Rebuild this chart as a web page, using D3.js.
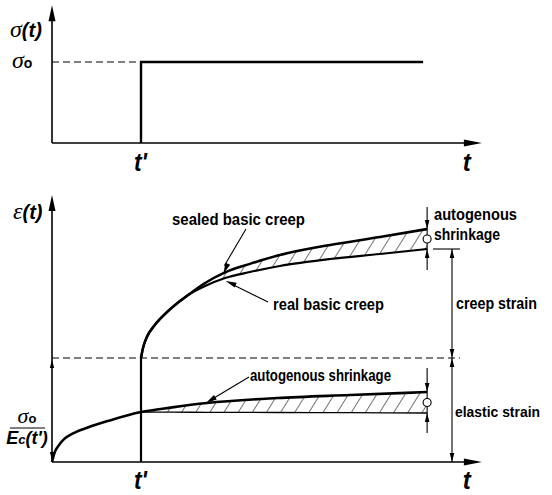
<!DOCTYPE html>
<html><head><meta charset="utf-8">
<script src="https://cdn.jsdelivr.net/npm/d3@7"></script>
<style>
html,body{margin:0;padding:0;background:#fff;}
svg{display:block;}
</style></head><body>
<svg id="chart" width="552" height="495"></svg>
<script>
// time axis in arbitrary units; t' is the age at loading
const tPrime = 20;
const tEnd = 84.3;
const tAxisMax = 96.6;

// stress history σ(t): constant load σ0 applied at t'
const stressT = [tPrime, tPrime, 83.4];
const stressV = [0, 1, 1];

// strain ε(t), in units of the elastic strain σ0/Ec(t')
// creep branch before the two curves separate
const creepCommonT = [20, 20.45, 21.3, 23.1, 26.1];
const creepCommonE = [1.0, 1.096, 1.20, 1.317, 1.452];
// after separation: sealed basic creep (upper) and real basic creep (lower)
const creepSplitT = [30.6, 34.4, 38.9, 44.5, 51.2, 62.5, 73.7, 84.3];
const sealedE = [1.606, 1.721, 1.823, 1.905, 1.99, 2.087, 2.163, 2.24];
const realE   = [1.606, 1.692, 1.769, 1.827, 1.885, 1.952, 2.0, 2.048];

// autogenous shrinkage curve up to loading
const autoPreT = [0, 0.67, 1.35, 2.7, 4.5, 7.9, 13, 20];
const autoPreE = [0, 0.10, 0.15, 0.22, 0.27, 0.33, 0.40, 0.48];
// after loading: shrinkage curve (upper) and reference line (lower)
const autoPostT  = [20, 27, 34.8, 50.6, 67, 84.3];
const autoUpperE = [0.48, 0.525, 0.567, 0.615, 0.644, 0.673];
const autoLowerE = [0.48, 0.479, 0.478, 0.476, 0.474, 0.471];

const FONT = "'Liberation Sans Narrow','Arial Narrow','Liberation Sans',Arial,sans-serif";
const SERIF = "'Liberation Serif','DejaVu Serif',serif";

const svg = d3.select('#chart');
svg.append('rect').attr('width', 552).attr('height', 495).attr('fill', '#fff');

const x = d3.scaleLinear().domain([0, 100]).range([52, 497]);
const yTop = d3.scaleLinear().domain([0, 1]).range([143, 62]);
const yBot = d3.scaleLinear().domain([0, 1]).range([462, 358]);

// hatch pattern
const defs = svg.append('defs');
defs.append('pattern')
  .attr('id', 'hatch').attr('patternUnits', 'userSpaceOnUse')
  .attr('width', 12).attr('height', 12)
  .attr('patternTransform', 'rotate(32)')
  .append('line').attr('x1', 0).attr('y1', 0).attr('x2', 0).attr('y2', 12)
  .attr('stroke', '#000').attr('stroke-width', 1.1);

function arrowHead(g, tx, ty, dx, dy, len, half) {
  const n = Math.hypot(dx, dy); dx /= n; dy /= n;
  const bx = tx - dx * len, by = ty - dy * len;
  const px = -dy * half, py = dx * half;
  g.append('path')
    .attr('d', `M${tx},${ty}L${bx + px},${by + py}L${bx - px},${by - py}Z`)
    .attr('fill', '#000');
}
function seg(g, x1, y1, x2, y2, w) {
  g.append('line').attr('x1', x1).attr('y1', y1).attr('x2', x2).attr('y2', y2)
    .attr('stroke', '#000').attr('stroke-width', w);
}
function label(g, px, py, txt, size, opts = {}) {
  const t = g.append('text').attr('x', px).attr('y', py)
    .attr('font-family', opts.family || FONT)
    .attr('font-size', size)
    .attr('font-weight', opts.weight || 'bold')
    .attr('font-style', opts.style || 'normal')
    .attr('fill', '#000')
    .attr('text-anchor', opts.anchor || 'start')
    .text(txt);
  if (opts.width) t.attr('textLength', opts.width).attr('lengthAdjust', 'spacingAndGlyphs');
  return t;
}

const zip = (ts, vs) => ts.map((t, i) => [t, vs[i]]);

// ---------- stress panel ----------
const gTop = svg.append('g');
seg(gTop, x(0), yTop(0), x(tAxisMax) - 14, yTop(0), 1.6);
arrowHead(gTop, x(tAxisMax), yTop(0), 1, 0, 18, 3.5);
seg(gTop, x(0), yTop(0), x(0), yTop(1.7) + 12, 1.6);
arrowHead(gTop, x(0), yTop(1.7), 0, -1, 16, 3.5);

gTop.append('line')
  .attr('x1', x(0)).attr('x2', x(tPrime)).attr('y1', yTop(1)).attr('y2', yTop(1))
  .attr('stroke', '#000').attr('stroke-width', 1).attr('stroke-dasharray', '7,4');

gTop.append('path')
  .datum(zip(stressT, stressV))
  .attr('d', d3.line().x(d => x(d[0])).y(d => yTop(d[1])))
  .attr('fill', 'none').attr('stroke', '#000').attr('stroke-width', 2.4);

// axis labels
const sl = label(gTop, 10, 37, '', 24, { family: SERIF, weight: 'normal', style: 'italic' });
sl.append('tspan').text('σ');
sl.append('tspan').attr('font-family', FONT).attr('font-weight', 'bold').attr('font-size', 20).text('(t)');
const s0 = label(gTop, 12, 68, '', 24, { family: SERIF, weight: 'normal', style: 'italic' });
s0.append('tspan').text('σ');
s0.append('tspan').attr('font-family', FONT).attr('font-weight', 'bold').attr('font-style', 'normal').attr('font-size', 14).text('o');
label(gTop, x(tPrime) - 7, 171, "t'", 26, { style: 'italic', width: 13 });
label(gTop, x(tAxisMax) - 19, 171, 't', 26, { style: 'italic', width: 8 });

// ---------- strain panel ----------
const gBot = svg.append('g');
const lineGen = d3.line().x(d => x(d[0])).y(d => yBot(d[1])).curve(d3.curveMonotoneX);
const areaGen = d3.area().x(d => x(d[0])).y0(d => yBot(d[1])).y1(d => yBot(d[2])).curve(d3.curveMonotoneX);

// hatched regions
gBot.append('path')
  .datum(creepSplitT.map((t, i) => [t, realE[i], sealedE[i]]))
  .attr('d', areaGen).attr('fill', 'url(#hatch)');
gBot.append('path')
  .datum(autoPostT.map((t, i) => [t, autoLowerE[i], autoUpperE[i]]))
  .attr('d', areaGen).attr('fill', 'url(#hatch)');

// axes
seg(gBot, x(0), yBot(0), x(tAxisMax) - 14, yBot(0), 1.6);
arrowHead(gBot, x(tAxisMax), yBot(0), 1, 0, 18, 3.5);
seg(gBot, x(0), yBot(0), x(0), yBot(2.567) + 12, 1.6);
arrowHead(gBot, x(0), yBot(2.567), 0, -1, 16, 3.5);
arrowHead(gBot, x(0), yBot(1) + 2, 0, -1, 8, 2.2);
arrowHead(gBot, x(0), yBot(0) - 2, 0, 1, 8, 2.2);

// elastic strain level
gBot.append('line')
  .attr('x1', x(0)).attr('x2', 460).attr('y1', yBot(1)).attr('y2', yBot(1))
  .attr('stroke', '#000').attr('stroke-width', 1).attr('stroke-dasharray', '7,4');

// loading line at t'
seg(gBot, x(tPrime), yBot(0), x(tPrime), yBot(1), 2.2);

// curves
const common = zip(creepCommonT, creepCommonE);
gBot.append('path').datum(common.concat(zip(creepSplitT, sealedE)))
  .attr('d', lineGen).attr('fill', 'none').attr('stroke', '#000').attr('stroke-width', 2.6);
gBot.append('path').datum(common.concat(zip(creepSplitT, realE)))
  .attr('d', lineGen).attr('fill', 'none').attr('stroke', '#000').attr('stroke-width', 2.2);
gBot.append('path').datum(zip(autoPreT, autoPreE).concat(zip(autoPostT, autoUpperE).slice(1)))
  .attr('d', lineGen).attr('fill', 'none').attr('stroke', '#000').attr('stroke-width', 2.6);
gBot.append('path').datum(zip(autoPostT, autoLowerE))
  .attr('d', lineGen).attr('fill', 'none').attr('stroke', '#000').attr('stroke-width', 1.3);

// autogenous shrinkage dimension at the end of the creep curves
const xe = x(tEnd);
const ySe = yBot(sealedE[sealedE.length - 1]);
const yRe = yBot(realE[realE.length - 1]);
seg(gBot, xe, ySe - 22, xe, yRe + 21, 1.1);
arrowHead(gBot, xe, ySe, 0, 1, 9, 2.3);
arrowHead(gBot, xe, yRe, 0, -1, 9, 2.3);
gBot.append('circle').attr('cx', xe).attr('cy', (ySe + yRe) / 2).attr('r', 4)
  .attr('fill', '#fff').attr('stroke', '#000').attr('stroke-width', 1.1);

// autogenous shrinkage dimension at the end of the lower curves
const yAu = yBot(autoUpperE[autoUpperE.length - 1]);
const yAl = yBot(autoLowerE[autoLowerE.length - 1]);
seg(gBot, xe, yAu - 24, xe, yAl + 20, 1.1);
arrowHead(gBot, xe, yAu, 0, 1, 9, 2.3);
arrowHead(gBot, xe, yAl, 0, -1, 9, 2.3);
gBot.append('circle').attr('cx', xe).attr('cy', (yAu + yAl) / 2).attr('r', 4)
  .attr('fill', '#fff').attr('stroke', '#000').attr('stroke-width', 1.1);

// creep strain / elastic strain dimension
const xd = 452;
seg(gBot, 433, yRe, 460, yRe, 1.1);
seg(gBot, xd, yRe, xd, yBot(0), 1.1);
arrowHead(gBot, xd, yRe, 0, -1, 9, 2.3);
arrowHead(gBot, xd, yBot(1), 0, 1, 9, 2.3);
arrowHead(gBot, xd, yBot(1), 0, -1, 9, 2.3);
arrowHead(gBot, xd, yBot(0), 0, 1, 9, 2.3);

// leader arrows
seg(gBot, 246, 229, x(38.5) + 1, yBot(1.81) - 8, 1.1);
arrowHead(gBot, x(38.5), yBot(1.81), -0.45, 1, 11, 2.6);
seg(gBot, 268, 302, x(39) + 8, yBot(1.77) + 7, 1.1);
arrowHead(gBot, x(39), yBot(1.77) + 3, -1, -0.42, 11, 2.6);
seg(gBot, 249, 377, x(34.6) + 8, yBot(0.567) - 5, 1.1);
arrowHead(gBot, x(34.6), yBot(0.567), -1, 0.62, 11, 2.6);

// texts
label(gBot, 172, 225, 'sealed basic creep', 17, { width: 133 });
label(gBot, 273, 310, 'real basic creep', 17, { width: 111 });
label(gBot, 250, 381, 'autogenous shrinkage', 17, { width: 141 });
label(gBot, 434, 220, 'autogenous', 17, { width: 83 });
label(gBot, 434, 240, 'shrinkage', 17, { width: 66 });
label(gBot, 456, 309, 'creep strain', 17, { width: 81 });
label(gBot, 455, 417, 'elastic strain', 15.5, { width: 85 });

const el = label(gBot, 13, 219, '', 24, { family: SERIF, weight: 'normal', style: 'italic' });
el.append('tspan').text('ε');
el.append('tspan').attr('font-family', FONT).attr('font-weight', 'bold').attr('font-size', 20).text('(t)');

const fr = label(gBot, 27, 423, '', 22, { family: SERIF, weight: 'normal', style: 'italic', anchor: 'middle' });
fr.append('tspan').text('σ');
fr.append('tspan').attr('font-family', FONT).attr('font-weight', 'bold').attr('font-style', 'normal').attr('font-size', 13).text('o');
seg(gBot, 10, 428, 45, 428, 1.2);
const ec = label(gBot, 27, 444, '', 18, { style: 'italic', anchor: 'middle' });
ec.append('tspan').text('E');
ec.append('tspan').attr('font-size', 13).text('c');
ec.append('tspan').text("(t')");

label(gBot, x(tPrime) - 7, 489, "t'", 26, { style: 'italic', width: 13 });
label(gBot, x(tAxisMax) - 19, 489, 't', 26, { style: 'italic', width: 8 });
</script>
</body></html>
